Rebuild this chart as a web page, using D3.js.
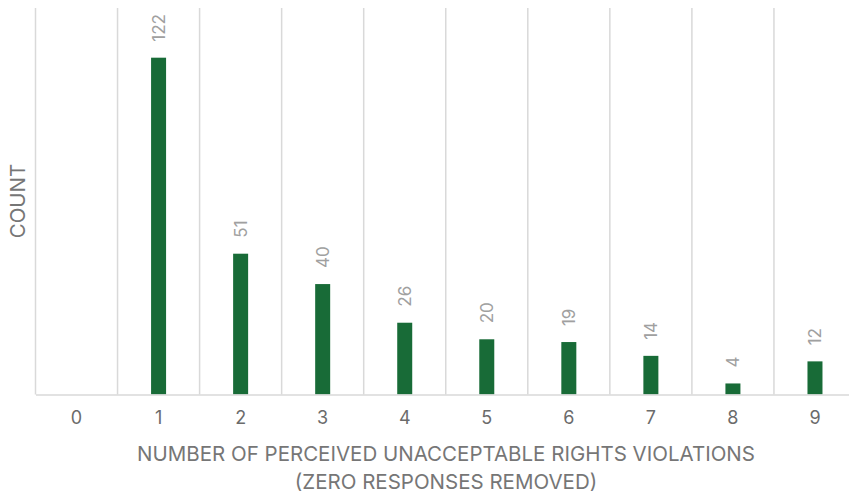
<!DOCTYPE html>
<html>
<head>
  <script src="https://d3js.org/d3.v7.min.js"></script>
</head>
<style>
body { margin: 0; background: #fff; }
text { font-family: Inter, "Open Sans", sans-serif; }
</style>
<body>
  <svg id="svg_bars"></svg>
</body>
<script>
  // values
  var categories = ["0", "1", "2", "3", "4", "5", "6", "7", "8", "9"];
  var counts = [null, 122, 51, 40, 26, 20, 19, 14, 4, 12];
  var titleLines = ["NUMBER OF PERCEIVED UNACCEPTABLE RIGHTS VIOLATIONS", "(ZERO RESPONSES REMOVED)"];

  var w = 849, h = 493;
  var plotLeft = 35.5, plotRight = 856, plotTop = 8, plotBottom = 394.5;

  var svg = d3.select("#svg_bars").attr("width", w).attr("height", h);

  var x = d3.scaleBand().domain(categories).range([plotLeft, plotRight]).paddingInner(0).paddingOuter(0);
  var y = d3.scaleLinear().domain([0, 140]).range([plotBottom, plotTop]);

  // vertical gridlines at band edges
  var edges = categories.map(function(c) { return x(c); });
  svg.append("g").selectAll("line")
    .data(edges)
    .enter().append("line")
    .attr("x1", function(d) { return d; })
    .attr("x2", function(d) { return d; })
    .attr("y1", plotTop)
    .attr("y2", plotBottom)
    .attr("stroke", "#d9d9d9")
    .attr("stroke-width", 1.5);

  var data = categories.map(function(c, i) { return {c: c, v: counts[i]}; })
    .filter(function(d) { return d.v != null; });

  var bw = 15;
  svg.append("g").selectAll("rect")
    .data(data)
    .enter().append("rect")
    .attr("x", function(d) { return x(d.c) + x.bandwidth() / 2 - bw / 2; })
    .attr("y", function(d) { return y(d.v); })
    .attr("width", bw)
    .attr("height", function(d) { return y(0) - y(d.v); })
    .attr("fill", "#186b37");

  // value labels, rotated
  svg.append("g").selectAll("text")
    .data(data)
    .enter().append("text")
    .attr("transform", function(d) {
      return "translate(" + (x(d.c) + x.bandwidth() / 2 + 6) + "," + (y(d.v) - 16) + ") rotate(-90)";
    })
    .attr("text-anchor", "start")
    .attr("font-size", 17)
    .attr("fill", "#a0a0a0")
    .text(function(d) { return d.v; });

  // x axis
  var xAxis = svg.append("g")
    .attr("transform", "translate(0," + plotBottom + ")")
    .call(d3.axisBottom(x).tickSize(0).tickPadding(17));
  xAxis.select(".domain").attr("stroke", "#d9d9d9").attr("stroke-width", 1.5);
  xAxis.selectAll("text")
    .attr("font-size", 18)
    .attr("fill", "#6b6b6b")
    .style("font-family", "Inter, 'Open Sans', sans-serif");

  svg.append("text")
    .attr("x", 446)
    .attr("y", 461)
    .attr("text-anchor", "middle")
    .attr("font-size", 20.5)
    .attr("fill", "#767676")
    .selectAll("tspan")
    .data(titleLines)
    .enter().append("tspan")
    .attr("x", 446)
    .attr("dy", function(d, i) { return i ? 28 : 0; })
    .text(function(d) { return d; });

  svg.append("text")
    .attr("transform", "translate(25,201) rotate(-90)")
    .attr("text-anchor", "middle")
    .attr("font-size", 20.5)
    .attr("fill", "#767676")
    .text("COUNT");
</script>
</html>
